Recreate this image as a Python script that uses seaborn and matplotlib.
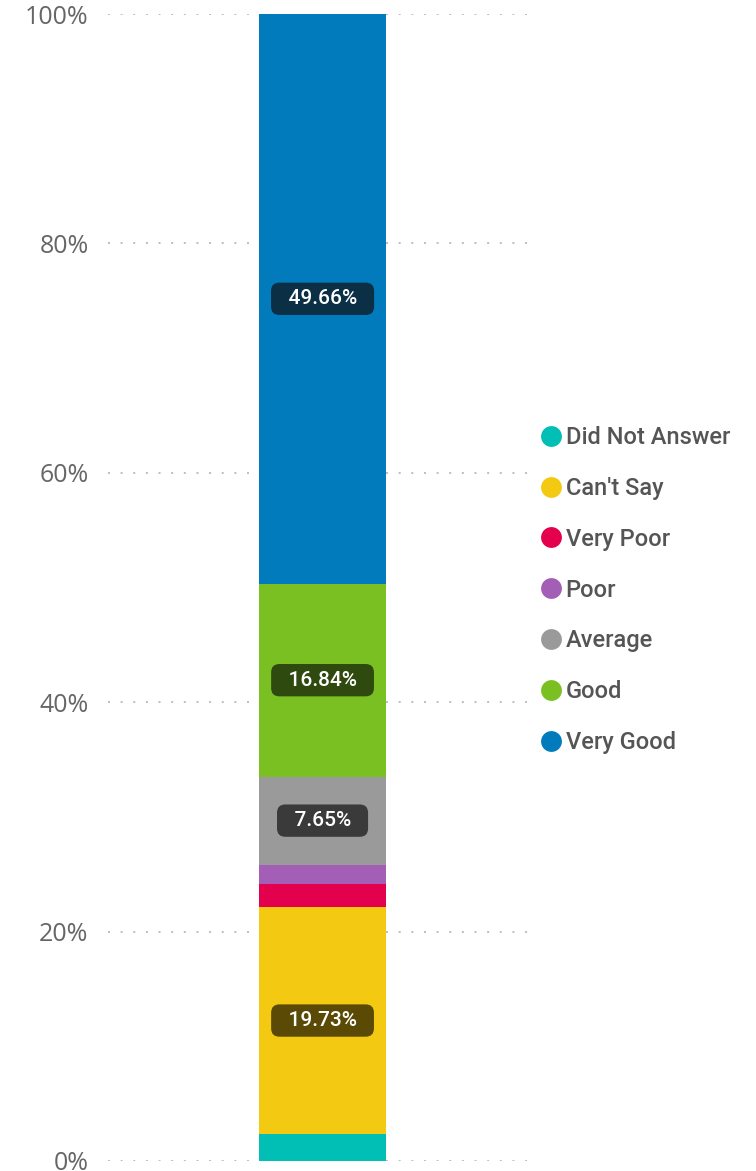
import numpy as np
import pandas as pd
import matplotlib
matplotlib.use("Agg")
import matplotlib.pyplot as plt
import seaborn as sns
from matplotlib.lines import Line2D
from matplotlib.ticker import FuncFormatter

# datos (de abajo hacia arriba)
categorias = ["Did Not Answer", "Can't Say", "Very Poor", "Poor", "Average", "Good", "Very Good"]
valores = [2.38, 19.73, 2.0, 1.74, 7.65, 16.84, 49.66]
colores = ["#01BFB5", "#F3C911", "#E3004D", "#A35FB5", "#9A9A9A", "#7AC022", "#017BBB"]
colores_etiqueta = ["#0A4A46", "#5A4A06", "#5A0520", "#45264F", "#3A3A3A", "#2F4A0F", "#0B2F45"]
mostrar_etiqueta = [False, True, False, False, True, True, True]

sns.set_style("white")
plt.rcParams['font.family'] = ['Open Sans', 'DejaVu Sans']

fig = plt.figure(figsize=(7.56, 11.71), dpi=100)
ax = fig.add_axes([108/756, 1 - 1161/1171, (532-108)/756, (1161-14)/1171])

acumulado = np.cumsum(valores)
inicio = acumulado - np.array(valores)

# barras acumuladas, de la mas alta a la mas baja (cada una tapa a la anterior)
for i in range(len(categorias)-1, -1, -1):
    df = pd.DataFrame({'x': [''], 'y': [acumulado[i]]})
    sns.barplot(data=df, x='x', y='y', color=colores[i], width=0.3,
                linewidth=0, saturation=1, ax=ax)

for i in range(len(categorias)):
    if mostrar_etiqueta[i]:
        ax.text(0, inicio[i] + valores[i]/2, f"  {valores[i]:.2f}%  ", ha='center', va='center',
                color='white', fontsize=15, family=['Roboto', 'DejaVu Sans'], fontweight='medium',
                bbox=dict(boxstyle='round,pad=0.32,rounding_size=0.4', fc=colores_etiqueta[i], ec='none'),
                zorder=5)

ax.set_xlim(-0.506, 0.494)
ax.set_ylim(0, 100)
ax.set_yticks([0, 20, 40, 60, 80, 100])
ax.yaxis.set_major_formatter(FuncFormatter(lambda v, _: f"{int(v)}%"))
ax.tick_params(axis='y', labelsize=18, labelcolor='#666666', length=0, pad=14)
ax.set_xticks([])
ax.set_xlabel('')
ax.set_ylabel('')
for s in ax.spines.values():
    s.set_visible(False)
ax.yaxis.grid(True, color='#BDBDBD', linestyle=(0, (1, 5.5)), linewidth=1.4)
ax.set_axisbelow(True)

# leyenda
handles = [Line2D([0], [0], marker='o', linestyle='', markersize=15,
                  markerfacecolor=c, markeredgecolor='none') for c in colores]
leg = fig.legend(handles, categorias, loc='upper left', bbox_to_anchor=(542/756, 1 - 426/1171),
                 frameon=False, handlelength=0.75, handletextpad=0.25, labelspacing=1.18,
                 prop={'family': ['Roboto', 'DejaVu Sans'], 'size': 17, 'weight': 'medium'},
                 borderpad=0, borderaxespad=0)
for t in leg.get_texts():
    t.set_color('#555555')

plt.savefig('out.png', dpi=100)
